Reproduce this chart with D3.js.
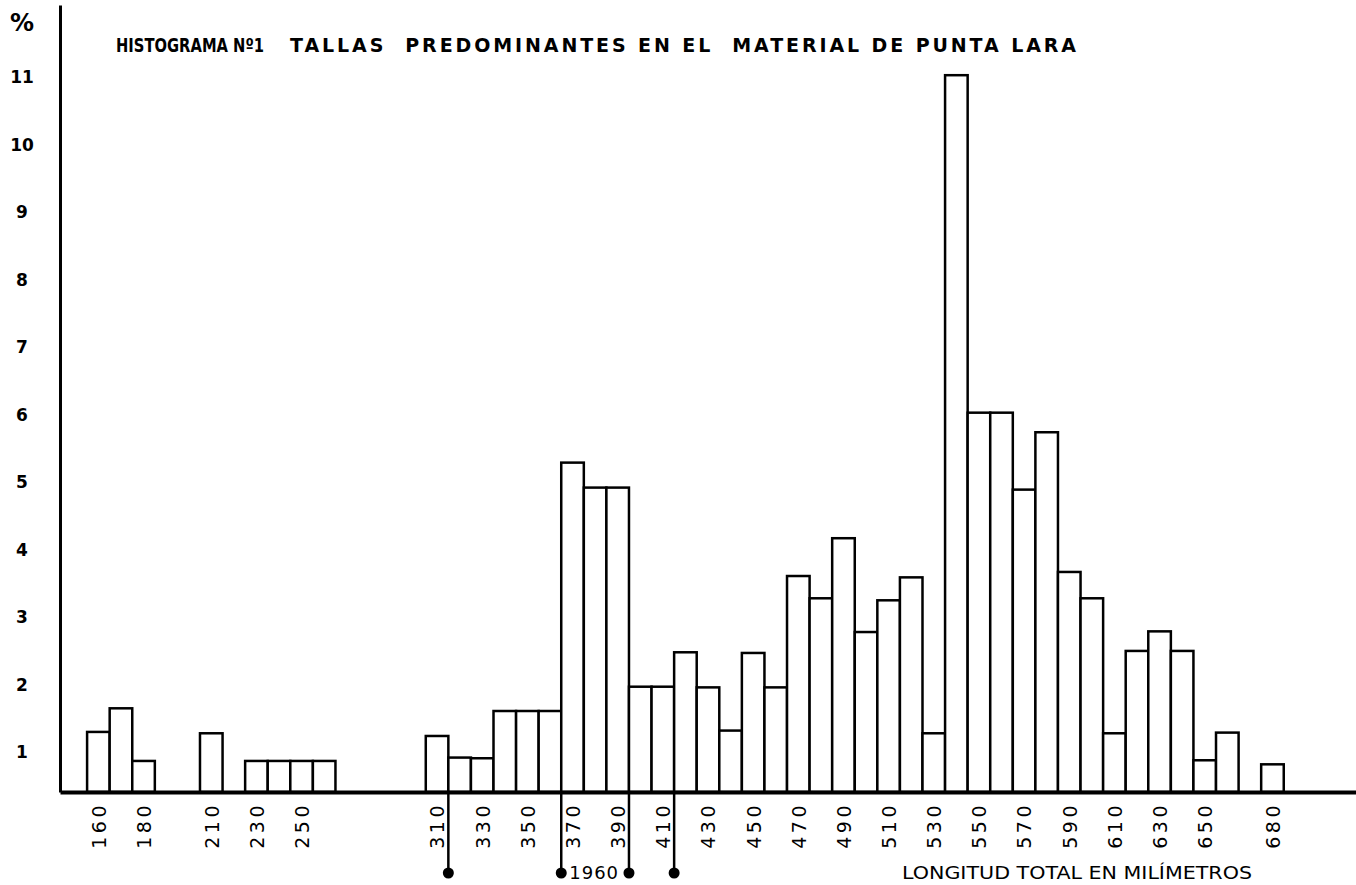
<!DOCTYPE html>
<html>
<head>
  <meta charset="UTF-8">
  <title>Histograma Nº1 - Punta Lara</title>
  <script src="https://cdnjs.cloudflare.com/ajax/libs/d3/7.8.5/d3.min.js"></script>
  <style>
    body { margin: 0; background: #fff; }
    svg { display: block; font-family: "DejaVu Sans", sans-serif; }
    .bar { fill: #fff; stroke: #000; stroke-width: 2.5; }
  </style>
</head>
<body>
<script>
  // bin centres (mm) and percentage of specimens
  var bins = [160, 170, 180, 210, 230, 240, 250, 260,
    310, 320, 330, 340, 350, 360, 370, 380, 390, 400, 410, 420, 430, 440,
    450, 460, 470, 480, 490, 500, 510, 520, 530, 540, 550, 560, 570, 580,
    590, 600, 610, 620, 630, 640, 650, 660, 680];
  var pct = [1.30, 1.65, 0.87, 1.28, 0.87, 0.87, 0.87, 0.87,
    1.24, 0.92, 0.91, 1.61, 1.61, 1.61, 5.29, 4.92, 4.92, 1.97, 1.97, 2.48, 1.96, 1.32,
    2.47, 1.96, 3.61, 3.28, 4.17, 2.78, 3.25, 3.59, 1.28, 11.03, 6.03, 6.03, 4.89, 5.74,
    3.67, 3.28, 1.28, 2.50, 2.79, 2.50, 0.88, 1.29, 0.82];
  var xTicks = [160, 180, 210, 230, 250, 310, 330, 350, 370, 390, 410, 430,
    450, 470, 490, 510, 530, 550, 570, 590, 610, 630, 650, 680];
  var yTicks = [1, 2, 3, 4, 5, 6, 7, 8, 9, 10, 11];
  // bin edges marked for the 1960 sample
  var marks1960 = [315, 365, 395, 415];

  var W = 1356, H = 885;
  var svg = d3.select("body").append("svg")
    .attr("width", W).attr("height", H);

  // the hand-drawn baseline sits a little above the zero of the % scale
  var yBase = 0.41, yTop = 12.07;
  var x = d3.scaleLinear().domain([143, 717]).range([60, 1356]);
  var y = d3.scaleLinear().domain([yBase, yTop]).range([792, 5]);

  var data = bins.map(function(b, i) { return { bin: b, v: pct[i] }; });

  svg.selectAll("rect.bar").data(data).enter().append("rect")
    .attr("class", "bar")
    .attr("x", function(d) { return x(d.bin - 5); })
    .attr("width", function(d) { return x(d.bin + 5) - x(d.bin - 5); })
    .attr("y", function(d) { return y(d.v); })
    .attr("height", function(d) { return y(yBase) - y(d.v); });

  // y axis
  var gy = svg.append("g")
    .attr("transform", "translate(" + x.range()[0] + ",0)")
    .call(d3.axisLeft(y).tickValues(yTicks).tickSize(0).tickSizeOuter(0));
  gy.select(".domain").attr("stroke", "#000").attr("stroke-width", 3);
  gy.selectAll("text")
    .attr("x", -38)
    .style("text-anchor", "middle")
    .style("font-family", "DejaVu Sans")
    .style("font-weight", "bold")
    .style("font-size", "17px")
    .attr("fill", "#000");

  // x axis
  var gx = svg.append("g")
    .attr("transform", "translate(0," + y(yBase) + ")")
    .call(d3.axisBottom(x).tickValues(xTicks).tickSize(0).tickSizeOuter(0));
  gx.select(".domain").attr("stroke", "#000").attr("stroke-width", 4);
  gx.selectAll("text")
    .attr("transform", "rotate(-90)")
    .attr("x", -10).attr("y", 0).attr("dy", "0.36em")
    .style("text-anchor", "end")
    .style("font-family", "DejaVu Sans")
    .style("font-size", "19px")
    .style("letter-spacing", "3.5px")
    .attr("fill", "#000");

  // 1960 markers
  var base = y(yBase);
  svg.selectAll("line.m60").data(marks1960).enter().append("line")
    .attr("class", "m60")
    .attr("x1", function(d) { return x(d); }).attr("x2", function(d) { return x(d); })
    .attr("y1", base).attr("y2", base + 81)
    .attr("stroke", "#000").attr("stroke-width", 2.5);
  svg.selectAll("circle.m60").data(marks1960).enter().append("circle")
    .attr("class", "m60")
    .attr("cx", function(d) { return x(d); }).attr("cy", base + 81)
    .attr("r", 5.5).attr("fill", "#000");
  svg.append("text")
    .attr("x", x(marks1960[1]) + 8).attr("y", base + 81).attr("dy", "0.36em")
    .style("font-size", "18px").style("letter-spacing", "1px")
    .text("1960");

  svg.append("text")
    .attr("x", 902).attr("y", base + 81).attr("dy", "0.36em")
    .attr("textLength", 350).attr("lengthAdjust", "spacingAndGlyphs")
    .style("font-size", "18px")
    .text("LONGITUD TOTAL EN MILÍMETROS");

  // title: two lettered runs
  var titleRuns = [
    { t: "HISTOGRAMA Nº1", x0: 116, x1: 264, size: 19, adj: "spacingAndGlyphs" },
    { t: "TALLAS  PREDOMINANTES EN EL  MATERIAL DE PUNTA LARA", x0: 290, x1: 1076, size: 19, adj: "spacing" }
  ];
  svg.selectAll("text.title").data(titleRuns).enter().append("text")
    .attr("class", "title")
    .attr("x", function(d) { return d.x0; }).attr("y", 45).attr("dy", "0.36em")
    .attr("textLength", function(d) { return d.x1 - d.x0; })
    .attr("lengthAdjust", function(d) { return d.adj; })
    .style("white-space", "pre")
    .style("font-size", function(d) { return d.size + "px"; })
    .style("font-weight", "bold")
    .text(function(d) { return d.t; });

  svg.append("text")
    .attr("x", 22).attr("y", 22).attr("dy", "0.36em")
    .style("text-anchor", "middle")
    .style("font-size", "24px").style("font-weight", "bold")
    .text("%");
</script>
</body>
</html>
